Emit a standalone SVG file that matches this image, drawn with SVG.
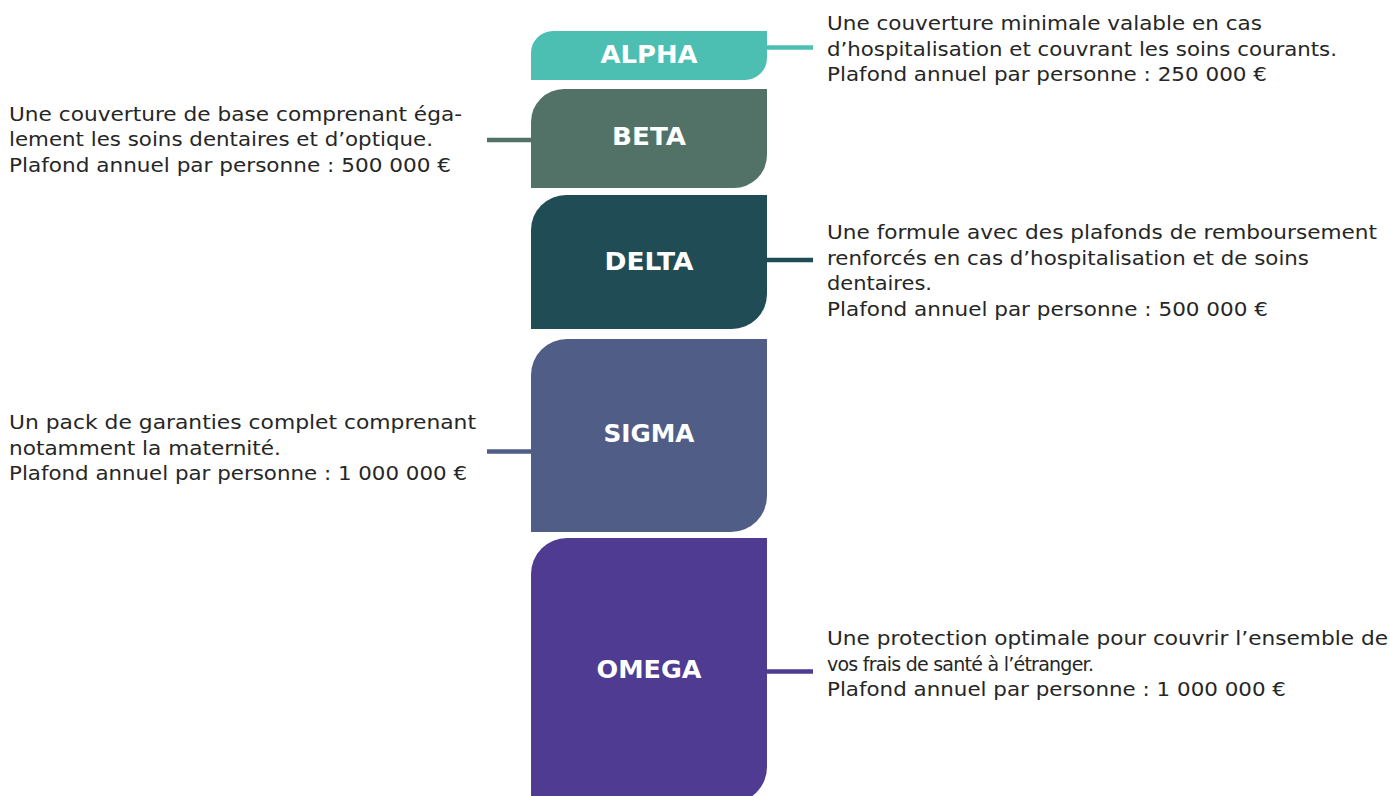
<svg xmlns="http://www.w3.org/2000/svg" width="1390" height="796" viewBox="0 0 1390 796">
<style>
.lbl{font-family:"DejaVu Sans","Liberation Sans",sans-serif;font-weight:bold;font-size:25px;fill:#ffffff;text-anchor:middle}
.txt{font-family:"DejaVu Sans","Liberation Sans",sans-serif;font-size:19px;fill:#262626}
.con{stroke-width:4.5;fill:none}
</style>
<rect width="1390" height="796" fill="#ffffff"/>
<g id="connectors">
<line class="con" x1="767" y1="47.5" x2="813" y2="47.5" stroke="#4CBFB2"/>
<line class="con" x1="487" y1="140" x2="531" y2="140" stroke="#527268"/>
<line class="con" x1="767" y1="260" x2="813" y2="260" stroke="#1F4C55"/>
<line class="con" x1="487" y1="451.5" x2="531" y2="451.5" stroke="#4F5D87"/>
<line class="con" x1="767" y1="671.5" x2="813" y2="671.5" stroke="#4F3B92"/>
</g>
<g id="alpha">
<path d="M531,80 V53 A22,22 0 0 1 553,31 H767 V58 A22,22 0 0 1 745,80 Z" fill="#4CBFB2"/>
<text class="lbl" x="649" y="63" textLength="97" lengthAdjust="spacingAndGlyphs">ALPHA</text>
<text class="txt" x="827" y="30" textLength="435" lengthAdjust="spacingAndGlyphs">Une couverture minimale valable en cas</text>
<text class="txt" x="827" y="55.5" textLength="510" lengthAdjust="spacingAndGlyphs">d’hospitalisation et couvrant les soins courants.</text>
<text class="txt" x="827" y="81" textLength="440" lengthAdjust="spacingAndGlyphs">Plafond annuel par personne : 250 000 €</text>
</g>
<g id="beta">
<path d="M531,188 V122 A33,33 0 0 1 564,89 H767 V155 A33,33 0 0 1 734,188 Z" fill="#527268"/>
<text class="lbl" x="649" y="145" textLength="74" lengthAdjust="spacingAndGlyphs">BETA</text>
<text class="txt" x="9" y="120.5" textLength="453" lengthAdjust="spacingAndGlyphs">Une couverture de base comprenant éga-</text>
<text class="txt" x="9" y="146" textLength="424" lengthAdjust="spacingAndGlyphs">lement les soins dentaires et d’optique.</text>
<text class="txt" x="9" y="171.5" textLength="442" lengthAdjust="spacingAndGlyphs">Plafond annuel par personne : 500 000 €</text>
</g>
<g id="delta">
<path d="M531,329 V230 A35,35 0 0 1 566,195 H767 V294 A35,35 0 0 1 732,329 Z" fill="#1F4C55"/>
<text class="lbl" x="649" y="270" textLength="89" lengthAdjust="spacingAndGlyphs">DELTA</text>
<text class="txt" x="827" y="239" textLength="550" lengthAdjust="spacingAndGlyphs">Une formule avec des plafonds de remboursement</text>
<text class="txt" x="827" y="264.5" textLength="482" lengthAdjust="spacingAndGlyphs">renforcés en cas d’hospitalisation et de soins</text>
<text class="txt" x="827" y="290" textLength="105" lengthAdjust="spacingAndGlyphs">dentaires.</text>
<text class="txt" x="827" y="315.5" textLength="441" lengthAdjust="spacingAndGlyphs">Plafond annuel par personne : 500 000 €</text>
</g>
<g id="sigma">
<path d="M531,532 V375 A36,36 0 0 1 567,339 H767 V496 A36,36 0 0 1 731,532 Z" fill="#4F5D87"/>
<text class="lbl" x="649" y="442" textLength="91" lengthAdjust="spacingAndGlyphs">SIGMA</text>
<text class="txt" x="9" y="429" textLength="467" lengthAdjust="spacingAndGlyphs">Un pack de garanties complet comprenant</text>
<text class="txt" x="9" y="454.5" textLength="272" lengthAdjust="spacingAndGlyphs">notamment la maternité.</text>
<text class="txt" x="9" y="480" textLength="458" lengthAdjust="spacingAndGlyphs">Plafond annuel par personne : 1 000 000 €</text>
</g>
<g id="omega">
<path d="M531,803 V574 A36,36 0 0 1 567,538 H767 V767 A36,36 0 0 1 731,803 Z" fill="#4F3B92"/>
<text class="lbl" x="649" y="678" textLength="105" lengthAdjust="spacingAndGlyphs">OMEGA</text>
<text class="txt" x="827" y="645" textLength="561" lengthAdjust="spacingAndGlyphs">Une protection optimale pour couvrir l’ensemble de</text>
<text class="txt" x="827" y="670.5" letter-spacing="-0.75">vos frais de santé à l’étranger.</text>
<text class="txt" x="827" y="696" textLength="459" lengthAdjust="spacingAndGlyphs">Plafond annuel par personne : 1 000 000 €</text>
</g>
</svg>
